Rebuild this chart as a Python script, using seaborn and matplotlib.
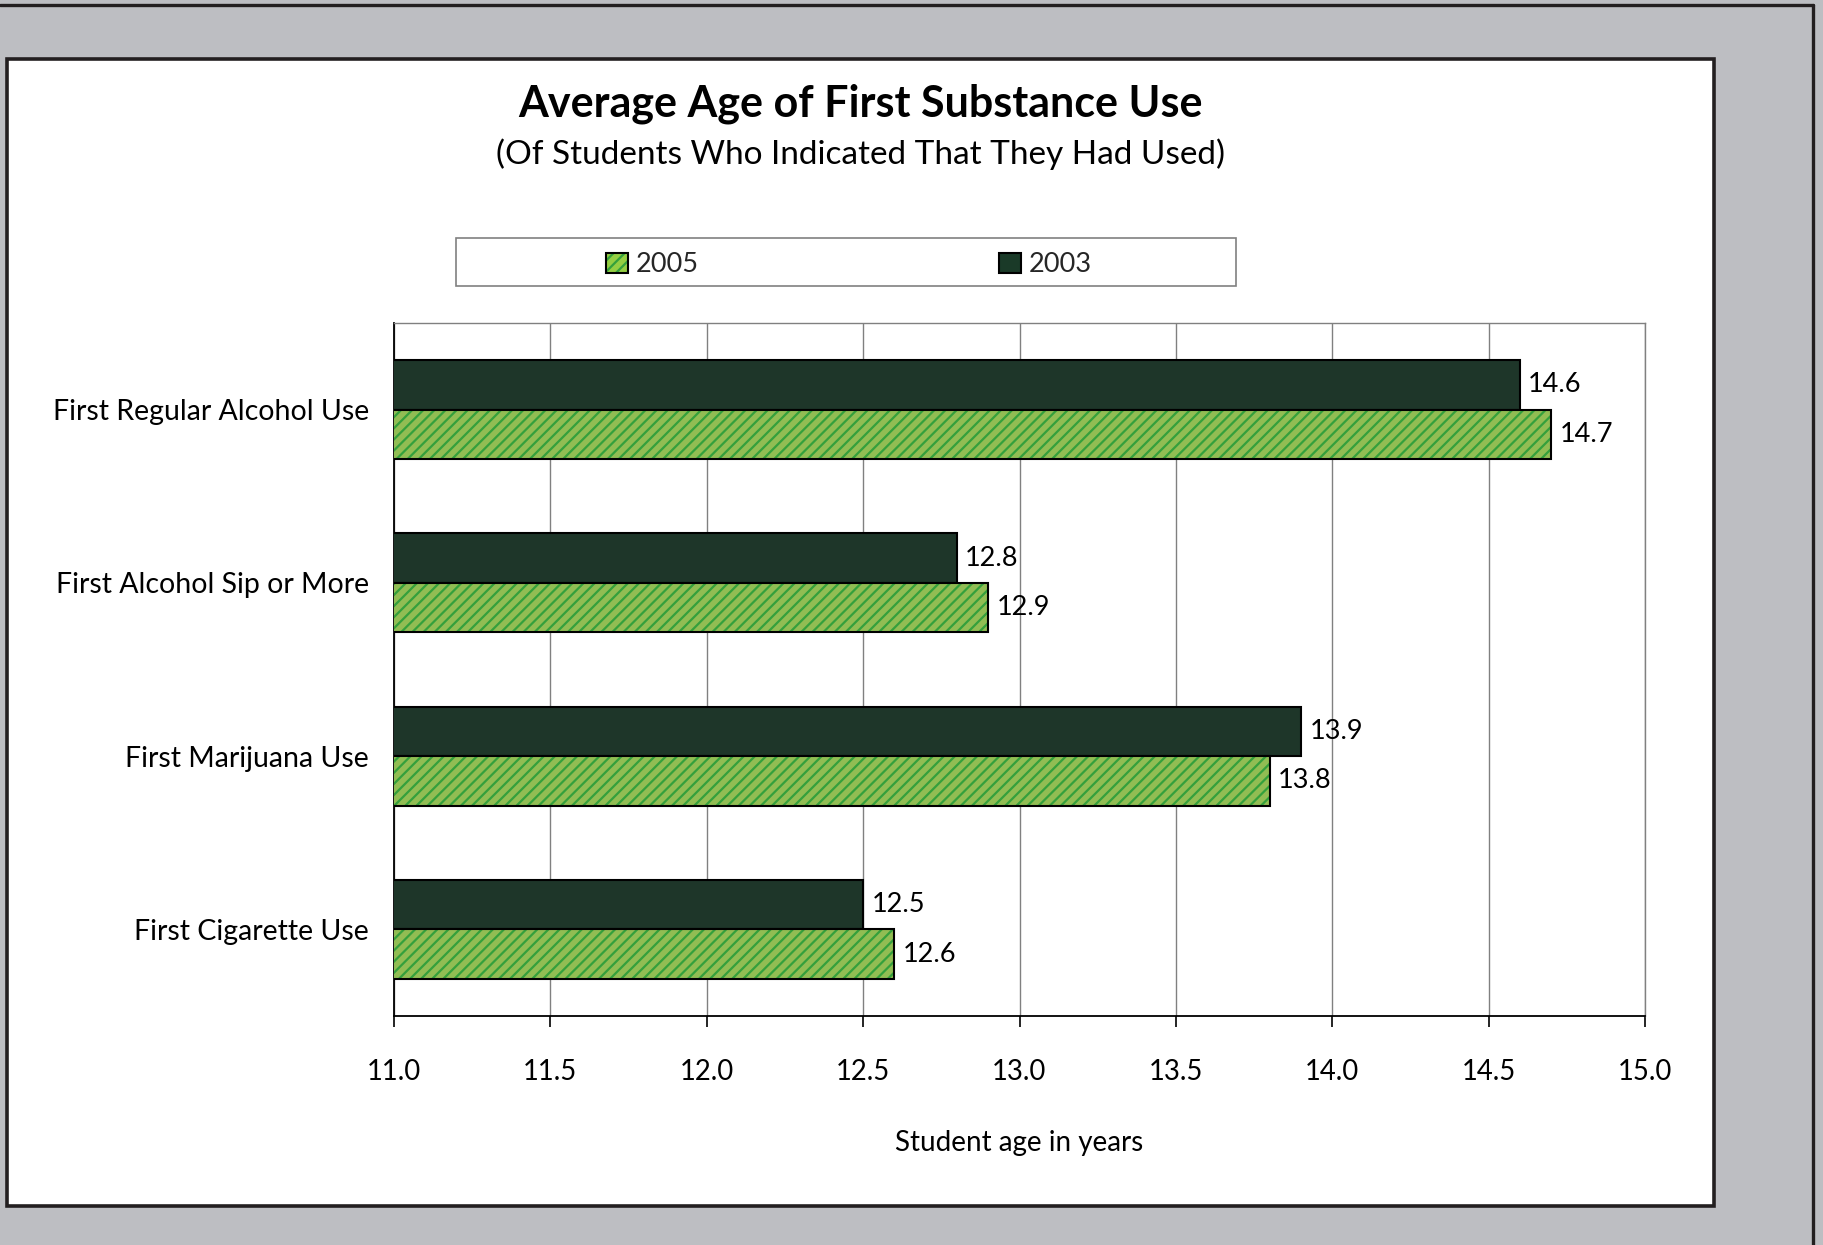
import matplotlib
matplotlib.use("Agg")
import matplotlib.pyplot as plt
from matplotlib.patches import Rectangle
from matplotlib.lines import Line2D
from matplotlib.legend_handler import HandlerTuple
import seaborn as sns
import pandas as pd

# Chart data
categories = ["First Regular Alcohol Use", "First Alcohol Sip or More",
              "First Marijuana Use", "First Cigarette Use"]
ages_2003 = [14.6, 12.8, 13.9, 12.5]
ages_2005 = [14.7, 12.9, 13.8, 12.6]
years = ["2003", "2005"]
x_ticks = [11.0, 11.5, 12.0, 12.5, 13.0, 13.5, 14.0, 14.5, 15.0]

df = pd.DataFrame({
    "category": categories * 2,
    "year": ["2003"] * len(categories) + ["2005"] * len(categories),
    "age": ages_2003 + ages_2005,
})

DARK = "#1a3a28"
LIGHT = "#94ce42"
STRIPE = "#34a03c"
BG = "#bdbec2"
FONT = "Lato"

sns.set_theme(style="white")
plt.rcParams["font.family"] = [FONT, "DejaVu Sans"]
plt.rcParams["hatch.linewidth"] = 1.6

W, H = 1823, 1245
fig = plt.figure(figsize=(W / 100, H / 100), dpi=100, facecolor=BG)

# outer frame (top and right visible) and white panel
fig.add_artist(Line2D([0, 1813 / W], [1 - 5 / H, 1 - 5 / H], transform=fig.transFigure,
                      color="#231f20", lw=2.4))
fig.add_artist(Line2D([1813 / W, 1813 / W], [0, 1 - 5 / H], transform=fig.transFigure,
                      color="#231f20", lw=2.4))
fig.add_artist(Rectangle((7 / W, 1 - 1206 / H), (1714 - 7) / W, (1206 - 59) / H,
                         transform=fig.transFigure, facecolor="white",
                         edgecolor="#231f20", lw=2.6, zorder=0))

ax = fig.add_axes([394 / W, 1 - 1016 / H, (1645 - 394) / W, (1016 - 323) / H])
ax.set_facecolor("white")

sns.barplot(data=df, y="category", x="age", hue="year", order=categories,
            hue_order=years, palette=[DARK, LIGHT], orient="h", width=0.57,
            edgecolor="black", linewidth=1.5, ax=ax, legend=False, zorder=3)

# hatched 2005 bars with black outline drawn on top
for bar in ax.containers[1]:
    bar.set_hatch("///")
    bar.set_edgecolor(STRIPE)
    bar.set_linewidth(0)
    ax.add_patch(Rectangle(bar.get_xy(), bar.get_width(), bar.get_height(),
                           fill=False, edgecolor="black", lw=1.5, zorder=4))

for cont in ax.containers:
    ax.bar_label(cont, fmt="%.1f", padding=6, fontsize=19.5, color="black",
                 family=[FONT, "DejaVu Sans"])

ax.set_xlim(11.0, 15.0)
ax.set_xticks(x_ticks)
ax.set_xticklabels([f"{t:.1f}" for t in x_ticks])
ax.set_ylim(3.5, -0.5)
ax.set_yticks(range(len(categories)))
ax.set_yticks([i - 0.5 for i in range(len(categories) + 1)], minor=True)
ax.tick_params(axis="y", which="major", length=0, pad=18, labelsize=20.5, labelcolor="black")
ax.tick_params(axis="y", which="minor", length=8, width=1.2, color="black", direction="out")
ax.tick_params(axis="x", which="major", length=8, width=1.2, color="black",
               direction="out", pad=23, labelsize=19.8, labelcolor="black", bottom=True)

ax.grid(axis="x", color="#808080", lw=1.0, zorder=0)
ax.set_axisbelow(True)
for side in ["top", "right"]:
    ax.spines[side].set_color("#808080")
    ax.spines[side].set_linewidth(1.0)
for side in ["left", "bottom"]:
    ax.spines[side].set_color("black")
    ax.spines[side].set_linewidth(1.3)

ax.set_ylabel("")
ax.set_xlabel("Student age in years", fontsize=20, color="black", labelpad=32)

# titles centred over the panel
cx = 860 / W
fig.text(cx, 1 - 104 / H, "Average Age of First Substance Use", ha="center", va="center",
         fontsize=31, fontweight="bold", color="black")
fig.text(cx, 1 - 154 / H, "(Of Students Who Indicated That They Had Used)", ha="center",
         va="center", fontsize=24, color="black")

# legend box and entries
fig.add_artist(Rectangle((456 / W, 1 - 286 / H), (1236 - 456) / W, (286 - 238) / H,
                         transform=fig.transFigure, facecolor="white",
                         edgecolor="#808080", lw=1.2, zorder=1))
h2005 = (Rectangle((0, 0), 1, 1, facecolor=LIGHT, edgecolor=STRIPE, lw=0, hatch="///"),
         Rectangle((0, 0), 1, 1, fill=False, edgecolor="black", lw=1.5))
h2003 = Rectangle((0, 0), 1, 1, facecolor=DARK, edgecolor="black", lw=1.5)
fig.legend([h2005, h2003], ["2005", "2003"],
           handler_map={tuple: HandlerTuple(ndivide=1, pad=0)},
           loc="center", bbox_to_anchor=(849 / W, 1 - 265 / H), ncol=2, frameon=False,
           fontsize=19.5, handlelength=0.8, handleheight=0.8, handletextpad=0.3,
           columnspacing=11.1)

fig.savefig("out.png", dpi=100, facecolor=BG)
